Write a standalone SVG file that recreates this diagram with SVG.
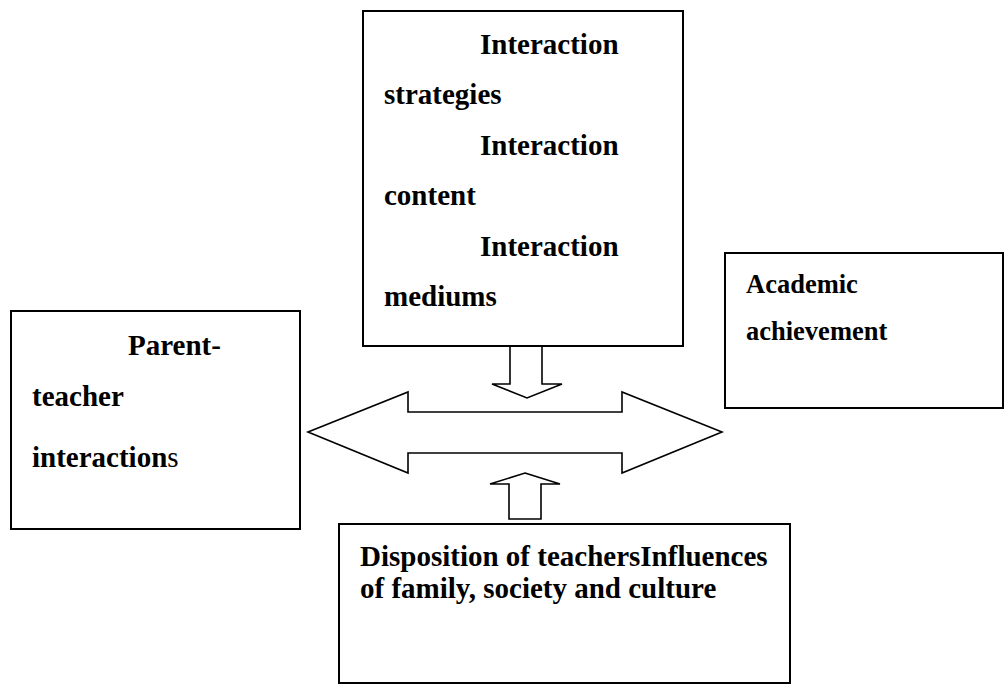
<svg xmlns="http://www.w3.org/2000/svg" width="1007" height="687" viewBox="0 0 1007 687">
<style>
.box{fill:#fff;stroke:#000;stroke-width:2}
.arr{fill:#fff;stroke:#000;stroke-width:1.6;stroke-linejoin:miter}
.t{font-family:"Liberation Serif","Times New Roman",serif;font-weight:bold;font-size:29px;fill:#000}
.ts{font-family:"Liberation Serif","Times New Roman",serif;font-weight:bold;font-size:26.5px;fill:#000}
.n{font-weight:normal}
</style>
<rect width="1007" height="687" fill="#fff"/>
<g id="connectors">
<polygon class="arr" points="308,432 408,392 408,412 622,412 622,392 722,432 622,473 622,453 408,453 408,473"/>
<polygon class="arr" points="510,346 542,346 542,384 562,384 527,398 492,384 510,384"/>
<polygon class="arr" points="525,473 560,484 541,484 541,519 509,519 509,484 490,484"/>
</g>
<g id="node-top">
<rect class="box" x="363" y="11" width="320" height="335"/>
<text class="t" x="480" y="54">Interaction</text>
<text class="t" x="384" y="104">strategies</text>
<text class="t" x="480" y="155">Interaction</text>
<text class="t" x="384" y="205">content</text>
<text class="t" x="480" y="256">Interaction</text>
<text class="t" x="384" y="306">mediums</text>
</g>
<g id="node-left">
<rect class="box" x="11" y="311" width="289" height="218"/>
<text class="t" x="128" y="355">Parent-</text>
<text class="t" x="32" y="406">teacher</text>
<text class="t" x="32" y="467">interaction<tspan class="n">s</tspan></text>
</g>
<g id="node-right">
<rect class="box" x="725" y="253" width="278" height="155"/>
<text class="ts" x="746" y="293">Academic</text>
<text class="ts" x="746" y="340">achievement</text>
</g>
<g id="node-bottom">
<rect class="box" x="339" y="524" width="451" height="159"/>
<text class="t" x="360" y="566">Disposition of teachersInfluences</text>
<text class="t" x="360" y="598">of family, society and culture</text>
</g>
</svg>
